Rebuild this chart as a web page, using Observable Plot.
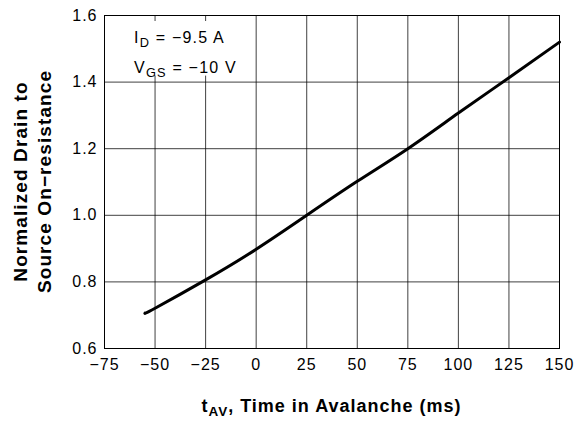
<!DOCTYPE html>
<html>
<head>
<meta charset="utf-8">
<script src="https://cdn.jsdelivr.net/npm/d3@7"></script>
<script src="https://cdn.jsdelivr.net/npm/@observablehq/plot@0.6"></script>
<style>
  html, body { margin: 0; padding: 0; background: #fff; }
  #chart svg { display: block; }
</style>
</head>
<body>
<div id="chart"></div>
<script>
// Data
const tAV = [-55, -50, -25, 0, 25, 50, 75, 100, 125, 150];
const rdsNorm = [0.706, 0.721, 0.806, 0.898, 1.0, 1.102, 1.2, 1.307, 1.413, 1.52];
const xTicks = [-75, -50, -25, 0, 25, 50, 75, 100, 125, 150];
const yTicks = [0.6, 0.8, 1.0, 1.2, 1.4, 1.6];
const annoLine1 = ["I", "D", " = \u22129.5 A"];
const annoLine2 = ["V", "GS", " = \u221210 V"];
const xLabel = ["t", "AV", ", Time in Avalanche (ms)"];
const yLabel = ["Normalized Drain to", "Source On\u2212resistance"];

const data = tAV.map((t, i) => ({t, r: rdsNorm[i]}));
const fmtX = d => (d < 0 ? "\u2212" + Math.abs(d) : String(d));
const fmtY = d3.format(".1f");

const plot = Plot.plot({
  width: 576,
  height: 428,
  marginLeft: 104,
  marginRight: 17,
  marginTop: 15,
  marginBottom: 80,
  style: {fontFamily: "'Liberation Sans', Arial, sans-serif", fontSize: "16px", background: "#fff", color: "#000"},
  x: {domain: [-75, 150], label: null},
  y: {domain: [0.6, 1.6], label: null},
  marks: [
    Plot.gridX(xTicks, {stroke: "#000", strokeOpacity: 0.75, strokeWidth: 1}),
    Plot.gridY(yTicks, {stroke: "#000", strokeOpacity: 0.75, strokeWidth: 1}),
    Plot.frame({stroke: "#000", strokeWidth: 1}),
    Plot.axisX(xTicks, {tickSize: 0, tickPadding: 10, tickFormat: fmtX, label: null}),
    Plot.axisY(yTicks, {tickSize: 0, tickPadding: 7, tickFormat: fmtY, label: null}),
    Plot.line(data, {x: "t", y: "r", curve: "natural", stroke: "#000", strokeWidth: 3})
  ]
});

document.getElementById("chart").appendChild(plot);
const svg = d3.select(plot);
svg.selectAll("g[aria-label='x-axis tick label'] text, g[aria-label='y-axis tick label'] text")
  .style("letter-spacing", "1px");

const sx = plot.scale("x"), sy = plot.scale("y");
const leftX = sx.apply(xTicks[0]);
const topY = sy.apply(yTicks[5]);

// white annotation box hiding the grid (leaving short tick stubs)
const bx1 = leftX + 1, bx2 = sx.apply(xTicks[3]) - 1;
const by1 = topY + 6, by2 = sy.apply(yTicks[4]) - 6;
const frameNode = svg.select("[aria-label='frame']").node();
svg.insert("rect", () => frameNode)
  .attr("x", bx1).attr("y", by1)
  .attr("width", bx2 - bx1).attr("height", by2 - by1)
  .attr("fill", "#fff");

function richText(parts, x, y, size, weight, subScale, subShift, ls, anchor) {
  const t = svg.append("text")
    .attr("x", x).attr("y", y)
    .attr("text-anchor", anchor)
    .attr("font-family", "'Liberation Sans', Arial, sans-serif")
    .attr("font-size", size)
    .attr("font-weight", weight)
    .attr("fill", "#000")
    .style("letter-spacing", ls + "px");
  t.append("tspan").text(parts[0]);
  t.append("tspan").attr("font-size", size * subScale).attr("dy", subShift).text(parts[1]);
  t.append("tspan").attr("dy", -subShift).text(parts[2]);
  return t;
}

// annotation
richText(annoLine1, leftX + 30, topY + 28, 16, "normal", 0.8, 4, 1.2, "start");
richText(annoLine2, leftX + 30, topY + 58, 16, "normal", 0.8, 4, 1.2, "start");
// x label
const cx = (sx.apply(xTicks[0]) + sx.apply(xTicks[xTicks.length - 1])) / 2;
richText(xLabel, cx, 412, 18, "bold", 0.75, 4, 1, "middle");
// y labels
const cy = (sy.apply(yTicks[0]) + sy.apply(yTicks[yTicks.length - 1])) / 2;
[27, 51].forEach((bx, i) => {
  svg.append("text")
    .attr("transform", `translate(${bx},${cy}) rotate(-90)`)
    .attr("text-anchor", "middle")
    .attr("font-family", "'Liberation Sans', Arial, sans-serif")
    .attr("font-size", 19)
    .attr("font-weight", "bold")
    .attr("fill", "#000")
    .style("letter-spacing", "1.1px")
    .text(yLabel[i]);
});
</script>
</body>
</html>
